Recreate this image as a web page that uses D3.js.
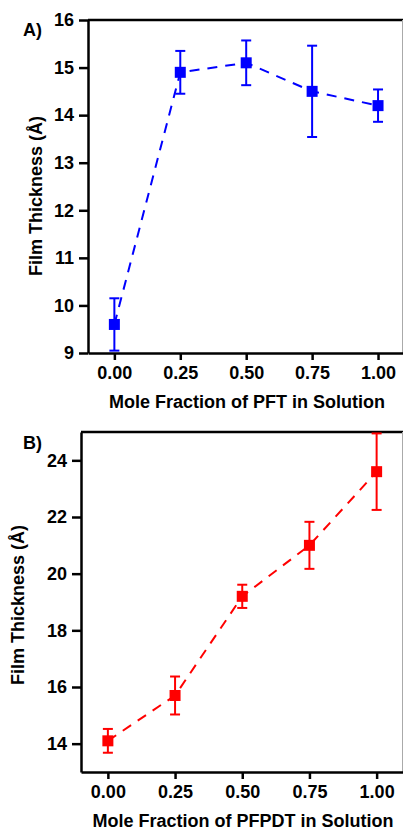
<!DOCTYPE html>
<html>
<head>
<meta charset="utf-8">
<script src="https://cdn.jsdelivr.net/npm/d3@7"></script>
<style>
  body { margin: 0; background: #fff; }
  svg { display: block; font-family: "Liberation Sans", Arial, sans-serif; }
  .tick text { font-size: 18px; font-weight: bold; fill: #000; }
  .ttl { font-size: 18px; font-weight: bold; fill: #000; }
</style>
</head>
<body>
<svg id="chart" width="403" height="831"></svg>
<script>
// data
var molFrac = [0, 0.25, 0.5, 0.75, 1.0];
var xTicks = [0, 0.25, 0.5, 0.75, 1.0];

var pftThick = [9.6, 14.9, 15.1, 14.5, 14.2];
var pftErr = [0.55, 0.45, 0.47, 0.96, 0.34];
var pftTicks = [9, 10, 11, 12, 13, 14, 15, 16];

var pfpdtThick = [14.1, 15.7, 19.2, 21.0, 23.6];
var pfpdtErr = [0.42, 0.67, 0.41, 0.83, 1.35];
var pfpdtTicks = [14, 16, 18, 20, 22, 24];

var svg = d3.select("#chart");

function drawPanel(opt) {
  var g = svg.append("g");
  var x = d3.scaleLinear().domain([-0.1, 1.1]).range([opt.left, opt.right]);
  var y = d3.scaleLinear().domain(opt.yDomain).range([opt.bottom, opt.top]);

  // frame: top and right
  g.append("line").attr("x1", opt.left).attr("x2", 403)
    .attr("y1", opt.top).attr("y2", opt.top)
    .attr("stroke", "#000").attr("stroke-width", 2.5);
  g.append("line").attr("x1", 402.5).attr("x2", 402.5)
    .attr("y1", opt.top).attr("y2", opt.bottom)
    .attr("stroke", "#aaa").attr("stroke-width", 1);

  var xa = g.append("g").attr("transform", "translate(0," + opt.bottom + ")")
    .call(d3.axisBottom(x).tickValues(xTicks).tickFormat(d3.format(".2f"))
      .tickSize(7).tickSizeOuter(0).tickPadding(6));
  var ya = g.append("g").attr("transform", "translate(" + opt.left + ",0)")
    .call(d3.axisLeft(y).tickValues(opt.yTicks).tickFormat(d3.format("d"))
      .tickSize(9).tickSizeOuter(0).tickPadding(5));
  [xa, ya].forEach(function(a) {
    a.select(".domain").attr("stroke", "#000").attr("stroke-width", 2.5);
    a.selectAll(".tick line").attr("stroke", "#000").attr("stroke-width", 2.5);
  });

  var pts = molFrac.map(function(m, i) { return {x: m, y: opt.vals[i], e: opt.errs[i]}; });

  g.append("path").datum(pts)
    .attr("fill", "none").attr("stroke", opt.color).attr("stroke-width", 2)
    .attr("stroke-dasharray", "10,8")
    .attr("d", d3.line().x(function(d) { return x(d.x); }).y(function(d) { return y(d.y); }));

  var eb = g.append("g").attr("stroke", opt.color).attr("stroke-width", 2);
  pts.forEach(function(d) {
    var cx = x(d.x), y1 = y(d.y + d.e), y0 = y(d.y - d.e);
    eb.append("line").attr("x1", cx).attr("x2", cx).attr("y1", y1).attr("y2", y0);
    eb.append("line").attr("x1", cx - 5).attr("x2", cx + 5).attr("y1", y1).attr("y2", y1);
    eb.append("line").attr("x1", cx - 5).attr("x2", cx + 5).attr("y1", y0).attr("y2", y0);
  });

  g.selectAll("rect.pt").data(pts).enter().append("rect")
    .attr("class", "pt")
    .attr("x", function(d) { return x(d.x) - 5.5; })
    .attr("y", function(d) { return y(d.y) - 5.5; })
    .attr("width", 11).attr("height", 11)
    .attr("fill", opt.color);

  g.append("text").attr("class", "ttl")
    .attr("x", opt.xTitleX).attr("y", opt.bottom + 55)
    .attr("text-anchor", "middle").text(opt.xTitle);
  g.append("text").attr("class", "ttl")
    .attr("transform", "translate(" + opt.yTitleX + "," + opt.yTitleY + ") rotate(-90)")
    .attr("text-anchor", "middle").text("Film Thickness (Å)");
  g.append("text").attr("class", "ttl")
    .attr("x", opt.tagX).attr("y", opt.tagY).text(opt.tag);
}

drawPanel({
  left: 88, right: 404.4, top: 20, bottom: 353,
  yDomain: [9, 16], yTicks: pftTicks,
  vals: pftThick, errs: pftErr, color: "#0000ff",
  xTitle: "Mole Fraction of PFT in Solution", xTitleX: 247,
  yTitleX: 42, yTitleY: 196,
  tag: "A)", tagX: 23, tagY: 36
});

drawPanel({
  left: 81, right: 403.5, top: 432, bottom: 772,
  yDomain: [13, 25], yTicks: pfpdtTicks,
  vals: pfpdtThick, errs: pfpdtErr, color: "#ff0000",
  xTitle: "Mole Fraction of PFPDT in Solution", xTitleX: 243,
  yTitleX: 24, yTitleY: 605,
  tag: "B)", tagX: 23, tagY: 449
});
</script>
</body>
</html>
